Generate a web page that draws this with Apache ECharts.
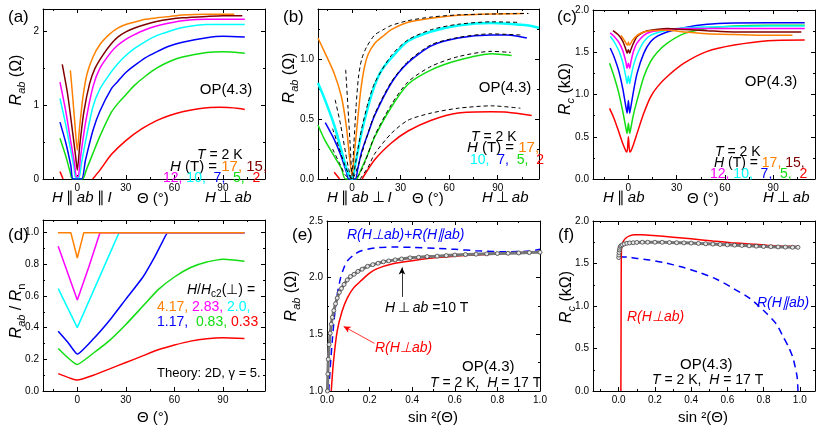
<!DOCTYPE html>
<html>
<head>
<meta charset="utf-8">
<script src="https://cdn.jsdelivr.net/npm/echarts@6/dist/echarts.min.js"></script>
<style>
  html, body { margin: 0; padding: 0; background: #fff; }
  #chart { width: 830px; height: 430px; }
</style>
</head>
<body>
<div id="chart"></div>
<script>
// ---- data ----
// (a) R_ab vs theta, one list per field (T)
const a17 = [[-4.3,1.47],[-3,1.15],[-1.5,0.75],[0,0.39],[1.5,0.72],[3.5,1.11],[6,1.42],[9.7,1.65],[14,1.82],[20,1.96],[25,2.04],[30,2.09],[35,2.12],[42,2.16],[49,2.18],[57,2.2],[65,2.22],[80,2.23],[97,2.23]];
const a15 = [[-9.3,1.55],[-6,1.15],[-3,0.65],[-1,0.3],[0,0.12],[1.5,0.45],[4,0.9],[7.6,1.29],[11,1.5],[15.9,1.68],[21,1.83],[25,1.92],[30,1.99],[35,2.04],[42,2.09],[49,2.13],[57,2.16],[65,2.18],[80,2.2],[90,2.21],[102,2.21]];
const a12 = [[-10.7,1.31],[-7,0.9],[-4,0.5],[-2,0.25],[-0.5,0.03],[0.5,0.03],[2,0.3],[5,0.75],[9.7,1.25],[14,1.5],[21,1.72],[25,1.81],[30,1.89],[35,1.95],[42,2.02],[49,2.07],[57,2.11],[65,2.14],[80,2.16],[103.5,2.16]];
const a10 = [[-10.7,1.09],[-7,0.72],[-4,0.38],[-2,0.15],[-1,0.02],[1,0.02],[2.5,0.2],[5,0.5],[9.7,0.98],[14,1.22],[21,1.45],[25,1.56],[30,1.67],[35,1.76],[42,1.86],[49,1.94],[57,2.0],[65,2.05],[80,2.09],[103.5,2.09]];
const a7 = [[-10.7,0.77],[-7,0.48],[-4,0.18],[-2.6,0],[2.6,0],[5,0.25],[9.7,0.66],[14,0.92],[21,1.22],[25,1.32],[30,1.44],[35,1.53],[42,1.64],[49,1.72],[57,1.8],[65,1.85],[80,1.91],[90,1.93],[103.5,1.92]];
const a5 = [[-10.7,0.55],[-7,0.3],[-4.5,0.1],[-3,0],[3.2,0],[5.5,0.12],[9.7,0.35],[14,0.58],[21,0.9],[25,1.02],[30,1.14],[35,1.26],[42,1.39],[49,1.5],[57,1.59],[65,1.65],[80,1.71],[90,1.72],[103.5,1.7]];
const a2 = [[-10.7,0.1],[-8.8,0],[0,'-'],[9.5,0],[14,0.12],[21,0.33],[30,0.52],[40,0.68],[49,0.79],[57,0.86],[65,0.91],[75,0.95],[88,0.97],[100,0.955],[103.5,0.94]];

// (b) measured (coloured) and fitted (dashed)
const b17 = [[-21,1.175],[-17,1.06],[-11,0.88],[-6.6,0.69],[-3.5,0.44],[-1.5,0.18],[0,0.03],[1.5,0.22],[3.7,0.52],[5.5,0.75],[7.8,0.94],[10,1.04],[14,1.13],[20,1.2],[24.3,1.245],[34.6,1.306],[49,1.34],[65.6,1.365],[86,1.376],[105.8,1.38]];
const b17fit = [[-3.9,0.91],[-2.5,0.6],[-1.2,0.3],[0,0.03],[1.2,0.3],[2.5,0.6],[4,0.85],[6,1.0],[9,1.1],[14,1.2],[20,1.25],[24.3,1.28],[34.6,1.32],[49,1.35],[65.6,1.368],[90,1.376],[109,1.38]];
const b10 = [[-21,0.8],[-17,0.67],[-11,0.45],[-6.6,0.24],[-2.5,0.05],[0,0],[2,0.12],[5.8,0.38],[9.9,0.6],[14,0.78],[18,0.9],[24.3,1.01],[34.6,1.15],[49,1.23],[65.6,1.28],[86,1.3],[96,1.295],[109,1.28],[115.5,1.26]];
const b10fit = [[-10.4,0.66],[-7,0.45],[-4,0.22],[-2,0.08],[0,0],[3,0.2],[6,0.42],[10,0.64],[14,0.8],[24.3,1.03],[34.6,1.16],[49,1.245],[65.6,1.29],[86,1.31],[104,1.305]];
const b7 = [[-16.5,0.47],[-11,0.33],[-7,0.2],[-3.5,0.06],[-2,0],[2,0],[3.5,0.08],[5.8,0.22],[9.9,0.38],[14,0.53],[24.3,0.8],[34.6,0.97],[49,1.11],[65.6,1.175],[86,1.2],[96,1.2],[108,1.175]];
const b7fit = [[-12,0.42],[-8,0.26],[-4,0.1],[0,0],[4,0.12],[8,0.3],[14,0.54],[24.3,0.81],[34.6,0.98],[49,1.12],[65.6,1.18],[86,1.21],[104,1.2]];
const b5 = [[-21,0.45],[-17,0.33],[-11,0.19],[-6.6,0.09],[-4,0],[2.7,0],[5,0.06],[9.9,0.21],[14,0.35],[24.3,0.6],[34.6,0.79],[49,0.91],[65.6,0.99],[86,1.045],[98.6,1.03]];
const b5fit = [[-12,0.25],[-8,0.14],[-4,0.03],[0,0],[4,0.03],[8,0.14],[14,0.36],[24.3,0.62],[34.6,0.81],[49,0.94],[65.6,1.02],[86,1.064],[98,1.055]];
const b2 = [[-11,0.056],[-7.6,0],[0,'-'],[6.2,0],[14,0.16],[24.3,0.3],[34.6,0.4],[49,0.49],[65.6,0.55],[86,0.56],[96,0.557],[111,0.53]];
const b2fit = [[5,0],[10,0.1],[14,0.21],[24.3,0.38],[34.6,0.49],[49,0.55],[65.6,0.59],[86,0.61],[104,0.59]];

// (c) R_c vs theta
const c17 = [[-4.6,1.7],[-2.5,1.64],[-1,1.59],[-0.5,1.585],[0,1.62],[0.5,1.585],[1,1.59],[2.5,1.64],[5.4,1.7],[9.6,1.74],[13.75,1.755],[24,1.76],[34.6,1.74],[49,1.72],[65.8,1.71],[86.7,1.7],[102,1.7]];
const c15 = [[-9.6,1.755],[-6,1.7],[-3.5,1.63],[-1.5,1.53],[-0.8,1.49],[0,1.53],[0.8,1.49],[1.5,1.53],[3,1.6],[5.4,1.685],[9.6,1.74],[13.75,1.76],[24,1.78],[34.6,1.77],[49,1.755],[65.8,1.74],[86.7,1.74],[107.5,1.74]];
const c12 = [[-11.3,1.73],[-9,1.69],[-6,1.62],[-3.5,1.52],[-1.5,1.38],[-0.8,1.31],[0,1.37],[0.8,1.31],[1.5,1.38],[3,1.5],[5.4,1.61],[9.6,1.7],[13.75,1.74],[24,1.77],[34.6,1.78],[49,1.78],[65.8,1.78],[86.7,1.78],[109.6,1.78]];
const c10 = [[-11.3,1.69],[-9,1.63],[-6,1.52],[-3.5,1.38],[-1.5,1.2],[-0.8,1.13],[0,1.22],[0.8,1.13],[1.5,1.2],[3,1.33],[5.4,1.47],[9.6,1.625],[13.75,1.7],[24,1.76],[34.6,1.79],[49,1.8],[65.8,1.805],[86.7,1.81],[109.6,1.81]];
const c7 = [[-11.3,1.55],[-9,1.45],[-6,1.28],[-3.5,1.07],[-1.5,0.85],[-0.8,0.78],[0,0.93],[0.8,0.78],[1.5,0.85],[3,1.02],[5.4,1.25],[9.6,1.49],[13.75,1.625],[18,1.69],[24,1.74],[34.6,1.79],[49,1.83],[65.8,1.845],[86.7,1.85],[109.6,1.85]];
const c5 = [[-11.7,1.37],[-9,1.22],[-6,1.02],[-3.5,0.8],[-1.5,0.6],[-0.8,0.54],[0,0.66],[0.8,0.54],[1.5,0.6],[3,0.75],[5.4,0.93],[9.6,1.21],[13.75,1.39],[18,1.5],[24,1.605],[34.6,1.72],[49,1.78],[65.8,1.81],[86.7,1.82],[109.6,1.82]];
const c2 = [[-11.7,0.836],[-9,0.72],[-6,0.56],[-3.5,0.42],[-1.5,0.33],[-0.8,0.32],[0,0.5],[0.8,0.32],[1.5,0.33],[3,0.4],[5.4,0.54],[9.6,0.78],[13.75,0.97],[18,1.09],[24,1.21],[34.6,1.37],[49,1.51],[65.8,1.585],[86.7,1.637],[109.6,1.645]];

// (d) theory, one list per H/Hc2
const d417 = [[-12,1],[-4,1],[0,0.84],[4,1],[103.3,1]];
const d283 = [[-11.8,0.914],[0,0.574],[7,0.78],[14,1],[103.3,1]];
const d200 = [[-11.8,0.647],[0,0.4],[12,0.68],[25.8,1],[103.3,1]];
const d117 = [[-11.8,0.378],[-6,0.31],[0,0.233],[10,0.33],[20,0.447],[30,0.58],[40.6,0.72],[48,0.85],[53,0.95],[56,1],[103.3,1]];
const d083 = [[-11.8,0.269],[0,0.168],[10,0.24],[20,0.32],[30,0.42],[40,0.53],[50,0.64],[60,0.72],[70,0.78],[80,0.815],[90,0.832],[103.3,0.82]];
const d033 = [[-11.8,0.11],[0,0.069],[10,0.1],[20,0.14],[30,0.18],[40,0.22],[50,0.26],[60,0.29],[70,0.315],[80,0.33],[90,0.336],[103.3,0.332]];

// (e) R_ab vs sin^2
const eMeas = [[0.002,1.0],[0.004,1.15],[0.006,1.28],[0.01,1.41],[0.015,1.51],[0.02,1.59],[0.025,1.65],[0.032,1.71],[0.04,1.77],[0.048,1.82],[0.058,1.87],[0.068,1.905],[0.08,1.94],[0.095,1.98],[0.11,2.01],[0.127,2.03],[0.145,2.055],[0.165,2.075],[0.19,2.1],[0.215,2.115],[0.24,2.127],[0.265,2.14],[0.29,2.148],[0.32,2.157],[0.35,2.165],[0.39,2.175],[0.43,2.18],[0.47,2.186],[0.517,2.19],[0.56,2.195],[0.6,2.2],[0.65,2.204],[0.7,2.207],[0.75,2.21],[0.8,2.213],[0.85,2.215],[0.9,2.218],[0.95,2.221],[1.0,2.224]];
const ePerp = [[0.02,1.0],[0.03,1.25],[0.048,1.53],[0.07,1.7],[0.095,1.82],[0.125,1.91],[0.158,1.97],[0.2,2.04],[0.236,2.08],[0.314,2.125],[0.4,2.15],[0.517,2.177],[0.6,2.19],[0.7,2.2],[0.85,2.215],[1.0,2.23]];
const eSum = [[0.008,1.0],[0.015,1.2],[0.025,1.45],[0.033,1.62],[0.045,1.82],[0.064,2.0],[0.08,2.09],[0.095,2.147],[0.125,2.2],[0.158,2.235],[0.236,2.265],[0.314,2.27],[0.4,2.268],[0.517,2.258],[0.6,2.25],[0.7,2.238],[0.85,2.228],[0.95,2.235],[1.0,2.25]];
const eArrowBlack = [[0.352,1.83],[0.352,2.09]];
const eArrowRed = [[0.223,1.42],[0.078,1.57]];

// (f) R_c vs sin^2
const fMeas = [[0.0,1.57],[0.001,1.6],[0.002,1.63],[0.004,1.66],[0.006,1.68],[0.009,1.7],[0.013,1.71],[0.02,1.72],[0.03,1.73],[0.045,1.737],[0.06,1.742],[0.08,1.745],[0.1,1.748],[0.13,1.75],[0.16,1.75],[0.2,1.75],[0.24,1.749],[0.28,1.747],[0.32,1.745],[0.36,1.743],[0.4,1.74],[0.44,1.736],[0.48,1.732],[0.52,1.728],[0.56,1.724],[0.6,1.72],[0.64,1.716],[0.68,1.712],[0.72,1.708],[0.76,1.704],[0.8,1.7],[0.84,1.698],[0.88,1.695],[0.92,1.693],[0.96,1.691],[0.99,1.69]];
const fPerp = [[0.012,0],[0.013,0.8],[0.014,1.5],[0.016,1.7],[0.025,1.76],[0.04,1.8],[0.06,1.825],[0.087,1.838],[0.13,1.838],[0.19,1.83],[0.3,1.81],[0.4,1.79],[0.52,1.765],[0.62,1.745],[0.72,1.73],[0.82,1.715],[0.9,1.705],[0.98,1.7]];
const fPar = [[0.005,1.58],[0.05,1.575],[0.1,1.56],[0.171,1.541],[0.25,1.51],[0.355,1.455],[0.45,1.39],[0.54,1.315],[0.63,1.21],[0.724,1.09],[0.816,0.914],[0.87,0.79],[0.908,0.639],[0.94,0.51],[0.963,0.384],[0.985,0.169],[0.99,0]];

// tick values
const thetaTicks = [0, 30, 60, 90];
const thetaMinor = [-15, 15, 45, 75, 105];
const aTicks = [0, 1, 2], aMinor = [0.5, 1.5];
const bTicks = [0, 0.5, 1.0], bMinor = [0.25, 0.75, 1.25];
const cTicks = [0, 0.5, 1.0, 1.5, 2.0], cMinor = [0.25, 0.75, 1.25, 1.75];
const dTicks = [0, 0.2, 0.4, 0.6, 0.8, 1.0], dMinor = [0.1, 0.3, 0.5, 0.7, 0.9];
const sTicks = [0, 0.2, 0.4, 0.6, 0.8, 1.0], sMinor = [-0.1, 0.1, 0.3, 0.5, 0.7, 0.9];
const eTicks = [1.0, 1.5, 2.0, 2.5], eMinor = [1.25, 1.75, 2.25];

// ---- styling ----
const F = "'Liberation Sans', Arial, sans-serif";
const C = { o: '#ff8000', br: '#800000', m: '#ff00ff', c: '#00ffff', b: '#0000ff', g: '#11dd11', r: '#ff0000' };

const grids = [
    { left: 43, top: 9, width: 222, height: 170 },
    { left: 318, top: 9, width: 221, height: 170 },
    { left: 593, top: 10, width: 222, height: 169 },
    { left: 43, top: 220, width: 222, height: 171 },
    { left: 327, top: 221, width: 213, height: 170 },
    { left: 593, top: 221, width: 222, height: 170 }
];

const int = v => String(v);
const one = v => v.toFixed(1);

// 4 axes per side pair: main (with labels), minor ticks, mirror, mirror minor
function axisSet(dim, g, range, major, minor, fmt) {
    const pos = dim === 'x' ? ['bottom', 'top'] : ['left', 'right'];
    const base = { type: 'value', gridIndex: g, min: range[0], max: range[1], splitLine: { show: false } };
    const line = { show: true, onZero: false, lineStyle: { color: '#000', width: 1 } };
    const noLine = { show: false, onZero: false };
    const tick = (vals, len) => ({ show: true, inside: true, length: len, customValues: vals, lineStyle: { color: '#000', width: 1 } });
    return [
        { ...base, position: pos[0], axisLine: line, axisTick: tick(major, 4),
          axisLabel: { show: true, customValues: major, formatter: fmt, color: '#000', fontSize: 10, fontFamily: F, margin: 4 } },
        { ...base, position: pos[0], axisLine: noLine, axisTick: tick(minor, 2), axisLabel: { show: false } },
        { ...base, position: pos[1], axisLine: line, axisTick: tick(major, 4), axisLabel: { show: false } },
        { ...base, position: pos[1], axisLine: noLine, axisTick: tick(minor, 2), axisLabel: { show: false } }
    ];
}

const xAxis = [
    ...axisSet('x', 0, [-21.2, 116], thetaTicks, thetaMinor, int),
    ...axisSet('x', 1, [-21, 115.5], thetaTicks, thetaMinor, int),
    ...axisSet('x', 2, [-22, 116], thetaTicks, thetaMinor, int),
    ...axisSet('x', 3, [-21.2, 116], thetaTicks, thetaMinor, int),
    ...axisSet('x', 4, [0, 1], sTicks, sMinor.slice(1), one),
    ...axisSet('x', 5, [-0.142, 1.084], sTicks, sMinor, one)
];
const yAxis = [
    ...axisSet('y', 0, [0, 2.3], aTicks, aMinor, int),
    ...axisSet('y', 1, [0, 1.417], bTicks, bMinor, one),
    ...axisSet('y', 2, [0, 2.0], cTicks, cMinor, one),
    ...axisSet('y', 3, [0, 1.08], dTicks, dMinor, one),
    ...axisSet('y', 4, [1.0, 2.5], eTicks, eMinor, one),
    ...axisSet('y', 5, [0, 2.0], cTicks, cMinor, one)
];

function line(g, data, color, extra) {
    return Object.assign({
        type: 'line', xAxisIndex: 4 * g, yAxisIndex: 4 * g, data: data,
        showSymbol: false, smooth: 0.25, silent: true,
        lineStyle: { color: color, width: 1.5 }, itemStyle: { color: color }
    }, extra || {});
}
const dashed = (g, data, color, w, dash) => line(g, data, color, { lineStyle: { color: color, width: w, type: dash }, z: 3 });
const meas = (g, data) => line(g, data, '#555', {
    smooth: false, showSymbol: true, showAllSymbol: true, symbol: 'circle', symbolSize: 4,
    itemStyle: { color: '#e6e6e6', borderColor: '#444', borderWidth: 0.8 },
    lineStyle: { color: '#777', width: 3 }, z: 4
});
const arrow = (g, pts, color) => ({
    type: 'line', xAxisIndex: 4 * g, yAxisIndex: 4 * g, data: [], silent: true,
    markLine: {
        silent: true, symbol: ['none', 'arrow'], symbolSize: [5, 7], label: { show: false },
        lineStyle: { color: color, width: 0.8, type: 'solid' },
        data: [[{ coord: pts[0] }, { coord: pts[1] }]]
    }
});

const series = [
    // (a)
    line(0, a2, C.r), line(0, a5, C.g), line(0, a7, C.b), line(0, a10, C.c),
    line(0, a12, C.m), line(0, a15, C.br), line(0, a17, C.o),
    // (b)
    line(1, b2, C.r), line(1, b5, C.g), line(1, b7, C.b), line(1, b10, C.c, { lineStyle: { color: C.c, width: 2.5 } }), line(1, b17, C.o),
    dashed(1, b2fit, '#000', 1, [4, 3]), dashed(1, b5fit, '#000', 1, [4, 3]), dashed(1, b7fit, '#000', 1, [4, 3]),
    dashed(1, b10fit, '#000', 1, [4, 3]), dashed(1, b17fit, '#000', 1, [4, 3]),
    // (c)
    line(2, c2, C.r), line(2, c5, C.g), line(2, c7, C.b), line(2, c10, C.c),
    line(2, c12, C.m), line(2, c15, C.br), line(2, c17, C.o),
    // (d)
    line(3, d033, C.r, { smooth: 0.15 }), line(3, d083, C.g, { smooth: 0.15 }), line(3, d117, C.b, { smooth: 0.15 }),
    line(3, d200, C.c, { smooth: false }), line(3, d283, C.m, { smooth: false }), line(3, d417, C.o, { smooth: false }),
    // (e)
    dashed(4, eSum, C.b, 1.5, [7, 5]), line(4, ePerp, C.r), meas(4, eMeas),
    arrow(4, eArrowBlack, '#000'), arrow(4, eArrowRed, C.r),
    // (f)
    dashed(5, fPar, C.b, 1.5, [7, 5]), line(5, fPerp, C.r, { smooth: 0.1 }), meas(5, fMeas)
];

// ---- text ----
function rich(size) {
    const n = { fontSize: size, fontFamily: F, fill: '#000', lineHeight: size + 4 };
    const i = Object.assign({}, n, { fontStyle: 'italic' });
    const ss = Math.round(size * 0.68);
    const s = { fontSize: ss, fontFamily: F, fontStyle: 'italic', fill: '#000', lineHeight: ss, verticalAlign: 'bottom' };
    const sn = Object.assign({}, s, { fontStyle: 'normal' });
    const col = c => Object.assign({}, n, { fill: c });
    return {
        n, i, s, sn,
        o: col(C.o), br: col(C.br), m: col(C.m), c: col(C.c), b: col(C.b), g: col(C.g), r: col(C.r),
        ri: Object.assign({}, i, { fill: C.r }), bi: Object.assign({}, i, { fill: C.b })
    };
}
function txt(x, y, text, size, align, rot) {
    return {
        type: 'text', x: x, y: y, rotation: rot || 0, silent: true, z: 100,
        style: { text: text, rich: rich(size), align: align || 'left', verticalAlign: 'middle', fill: '#000', font: size + 'px ' + F }
    };
}
const R90 = Math.PI / 2;
const PAR = '\u2009\u2225\u2009', PERP = '\u2009\u22A5\u2009';
const graphic = [
    // panel letters
    txt(8, 17, '(a)', 17), txt(283, 17, '(b)', 17), txt(557, 17, '(c)', 17),
    txt(8, 235, '(d)', 17), txt(292, 235, '(e)', 17), txt(558, 235, '(f)', 17),
    // y titles
    txt(17, 80, '{i|R}{s|ab}{n| (Ω)}', 16, 'center', R90),
    txt(290, 78, '{i|R}{s|ab}{n| (Ω)}', 16, 'center', R90),
    txt(566, 89, '{i|R}{s|c}{n| (kΩ)}', 16, 'center', R90),
    txt(17, 311, '{i|R}{s|ab}{n| / }{i|R}{sn|n}', 16, 'center', R90),
    txt(292, 296, '{i|R}{s|ab}{n| (Ω)}', 16, 'center', R90),
    txt(567, 297, '{i|R}{s|c}{n| (kΩ)}', 16, 'center', R90),
    // x titles, top row
    txt(52, 198, '{i|H}{n|' + PAR + '}{i|ab}{n|' + PAR + '}{i|I}', 15), txt(137, 199, '{n|Θ (°)}', 15), txt(205, 198, '{i|H}{n|' + PERP + '}{i|ab}', 15),
    txt(327, 198, '{i|H}{n|' + PAR + '}{i|ab}{n|' + PERP + '}{i|I}', 15), txt(412, 199, '{n|Θ (°)}', 15), txt(482, 198, '{i|H}{n|' + PERP + '}{i|ab}', 15),
    txt(603, 198, '{i|H}{n|' + PAR + '}{i|ab}', 15), txt(687, 199, '{n|Θ (°)}', 15), txt(763, 198, '{i|H}{n|' + PERP + '}{i|ab}', 15),
    // x titles, bottom row
    txt(137, 418, '{n|Θ (°)}', 15), txt(408, 418, '{n|sin ²(Θ)}', 15), txt(678, 418, '{n|sin ²(Θ)}', 15),
    // (a)
    txt(226, 90, '{n|OP(4.3)}', 15, 'center'),
    txt(197, 155, '{i|T}{n| = 2 K}', 14),
    txt(170, 167, '{i|H}{n| (T) = }{o|17, }{br|15,}', 15),
    txt(163, 178, '{m|12, }{c|10,  }{b|7,  }{g|5,  }{r|2}', 14),
    // (b)
    txt(505, 88, '{n|OP(4.3)}', 15, 'center'),
    txt(471, 137, '{i|T}{n| = 2 K}', 14),
    txt(467, 148, '{i|H}{n| (T) = }{o|17,}', 15),
    txt(470, 160, '{c|10,  }{b|7,  }{g|5,  }{r|2}', 14),
    // (c)
    txt(771, 82, '{n|OP(4.3)}', 15, 'center'),
    txt(715, 152, '{i|T}{n| = 2 K}', 14),
    txt(714, 163, '{i|H}{n| (T) = }{o|17, }{br|15,}', 14),
    txt(710, 174, '{m|12, }{c|10,  }{b|7,  }{g|5,  }{r|2}', 14),
    // (d)
    txt(187, 290, '{i|H}{n|/}{i|H}{sn|c2}{n|(⊥) =}', 14),
    txt(157, 307, '{o|4.17, }{m|2.83, }{c|2.0,}', 14),
    txt(157, 322, '{b|1.17,  }{g|0.83, }{r|0.33}', 14),
    txt(157, 373, '{n|Theory: 2D, γ = 5.}', 13),
    // (e)
    txt(347, 235, '{bi|R(H' + '\u22A5' + 'ab)+R(H' + '\u2225' + 'ab)}', 14),
    txt(385, 308, '{i|H}{n|' + PERP + '}{i|ab}{n| =10 T}', 14),
    txt(375, 348, '{ri|R(H\u22A5ab)}', 14),
    txt(462, 367, '{n|OP(4.3)}', 15),
    txt(430, 383, '{i|T}{n| = 2 K,  }{i|H}{n| = 17 T}', 14),
    // (f)
    txt(627, 317, '{ri|R(H\u22A5ab)}', 14),
    txt(757, 303, '{bi|R(H\u2225ab)}', 14),
    txt(680, 365, '{n|OP(4.3)}', 15),
    txt(652, 380, '{i|T}{n| = 2 K,  }{i|H}{n| = 17 T}', 14)
];

const chart = echarts.init(document.getElementById('chart'));
chart.setOption({
    animation: false,
    backgroundColor: '#fff',
    grid: grids,
    xAxis: xAxis,
    yAxis: yAxis,
    series: series,
    graphic: graphic
});
</script>
</body>
</html>
